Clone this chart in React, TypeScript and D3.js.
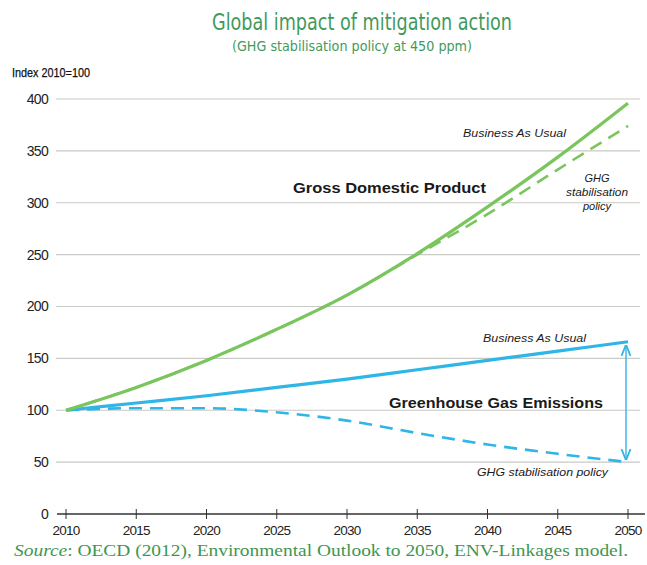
import React, { useEffect, useRef } from 'react';
import * as d3 from 'd3';

const years = [2010, 2015, 2020, 2025, 2030, 2035, 2040, 2045, 2050];
const gdpBau = [100, 122, 148, 178, 211, 251, 296, 344, 396];
const gdpPolicy = [100, 122, 148, 178, 211, 250, 289, 332, 374];
const ghgBau = [100, 107, 114, 122, 130, 139, 148, 157, 166];
const ghgPolicy = [100, 102, 102, 98, 90, 78, 67, 58, 50];
const yTicks = [0, 50, 100, 150, 200, 250, 300, 350, 400];

const W = 647;
const H = 565;
const GREEN = '#7ac55d';
const BLUE = '#2fb5e6';
const TITLE_GREEN = '#3f9a5d';

const App: React.FC = () => {
  const svgRef = useRef<SVGSVGElement | null>(null);

  useEffect(() => {
    if (!svgRef.current) return;
    const svg = d3.select(svgRef.current);
    svg.selectAll('*').remove();

    const x = d3.scaleLinear().domain([2010, 2050]).range([66, 628]);
    const y = d3.scaleLinear().domain([0, 400]).range([514, 99]);

    // Titles
    svg.append('text').attr('x', 362).attr('y', 30).attr('text-anchor', 'middle')
      .attr('font-family', 'DejaVu Sans Condensed, DejaVu Sans').attr('font-stretch', 'condensed')
      .attr('font-size', 23).attr('fill', TITLE_GREEN).attr('textLength', 300).attr('lengthAdjust', 'spacingAndGlyphs')
      .text('Global impact of mitigation action');
    svg.append('text').attr('x', 352).attr('y', 51).attr('text-anchor', 'middle')
      .attr('font-family', 'DejaVu Sans Condensed, DejaVu Sans').attr('font-stretch', 'condensed')
      .attr('font-size', 14.5).attr('fill', TITLE_GREEN).attr('textLength', 240).attr('lengthAdjust', 'spacingAndGlyphs')
      .text('(GHG stabilisation policy at 450 ppm)');
    svg.append('text').attr('x', 12).attr('y', 77)
      .attr('font-family', 'Liberation Sans, Arial').attr('font-size', 12.5).attr('fill', '#111')
      .attr('stroke', '#111').attr('stroke-width', 0.25)
      .attr('textLength', 78).attr('lengthAdjust', 'spacingAndGlyphs')
      .text('Index 2010=100');

    // Gridlines + y labels
    const grid = svg.append('g');
    yTicks.forEach((t) => {
      if (t > 0) {
        grid.append('line').attr('x1', 56).attr('x2', 640).attr('y1', y(t)).attr('y2', y(t))
          .attr('stroke', '#c9c9c6').attr('stroke-width', 1.2);
      }
      grid.append('text').attr('x', 48).attr('y', y(t)).attr('dy', '0.35em').attr('text-anchor', 'end')
        .attr('font-family', 'Liberation Sans, Arial').attr('font-size', 14).attr('fill', '#222')
        .attr('letter-spacing', -0.7)
        .text(t);
    });

    // x axis
    const xAxis = svg.append('g');
    xAxis.append('line').attr('x1', 57).attr('x2', 645).attr('y1', y(0)).attr('y2', y(0))
      .attr('stroke', '#333').attr('stroke-width', 1.6);
    years.forEach((yr) => {
      xAxis.append('line').attr('x1', x(yr)).attr('x2', x(yr)).attr('y1', y(0) - 5).attr('y2', y(0) + 5)
        .attr('stroke', '#333').attr('stroke-width', 1);
      xAxis.append('text').attr('x', x(yr)).attr('y', 535).attr('text-anchor', 'middle')
        .attr('font-family', 'Liberation Sans, Arial').attr('font-size', 13.5).attr('fill', '#222')
        .attr('letter-spacing', -0.8)
        .text(yr);
    });

    const line = d3.line<number>()
      .x((_, i) => x(years[i]))
      .y((d) => y(d))
      .curve(d3.curveMonotoneX);

    svg.append('path').datum(ghgPolicy).attr('d', line).attr('fill', 'none')
      .attr('stroke', BLUE).attr('stroke-width', 2.6).attr('stroke-dasharray', '13,8');
    svg.append('path').datum(ghgBau).attr('d', line).attr('fill', 'none')
      .attr('stroke', BLUE).attr('stroke-width', 3.2);
    svg.append('path').datum(gdpPolicy).attr('d', line).attr('fill', 'none')
      .attr('stroke', GREEN).attr('stroke-width', 2.6).attr('stroke-dasharray', '13,8');
    svg.append('path').datum(gdpBau).attr('d', line).attr('fill', 'none')
      .attr('stroke', GREEN).attr('stroke-width', 3.2);

    // Double-headed arrow between emissions endpoints
    const defs = svg.append('defs');
    defs.append('marker').attr('id', 'ah').attr('viewBox', '0 0 10 10').attr('refX', 9).attr('refY', 5)
      .attr('markerWidth', 8).attr('markerHeight', 8).attr('orient', 'auto-start-reverse')
      .append('path').attr('d', 'M0,1 L10,5 L0,9').attr('fill', 'none').attr('stroke', BLUE).attr('stroke-width', 1.6);
    const ax = x(2050) - 2;
    svg.append('line').attr('x1', ax).attr('x2', ax)
      .attr('y1', y(ghgBau[ghgBau.length - 1]) + 4).attr('y2', y(ghgPolicy[ghgPolicy.length - 1]) - 3)
      .attr('stroke', BLUE).attr('stroke-width', 1.4)
      .attr('marker-start', 'url(#ah)').attr('marker-end', 'url(#ah)');

    // Annotations
    const label = (tx: number, ty: number, s: string, opts: { size: number; bold?: boolean; italic?: boolean; anchor?: string; len?: number }) => {
      const t = svg.append('text').attr('x', tx).attr('y', ty)
        .attr('font-family', 'Liberation Sans, Arial').attr('font-size', opts.size).attr('fill', '#1a1a1a')
        .attr('text-anchor', opts.anchor ?? 'start')
        .attr('font-weight', opts.bold ? 'bold' : 'normal')
        .attr('font-style', opts.italic ? 'italic' : 'normal')
        .text(s);
      if (opts.len) t.attr('textLength', opts.len).attr('lengthAdjust', 'spacingAndGlyphs');
    };
    label(293, 193, 'Gross Domestic Product', { size: 15, bold: true, len: 193 });
    label(463, 137, 'Business As Usual', { size: 11, italic: true, len: 103 });
    label(597, 182, 'GHG', { size: 11, italic: true, anchor: 'middle' });
    label(597, 196, 'stabilisation', { size: 11, italic: true, anchor: 'middle', len: 62 });
    label(597, 210, 'policy', { size: 11, italic: true, anchor: 'middle' });
    label(483, 342, 'Business As Usual', { size: 11, italic: true, len: 103 });
    label(389, 408, 'Greenhouse Gas Emissions', { size: 15, bold: true, len: 214 });
    label(477, 476, 'GHG stabilisation policy', { size: 11, italic: true, len: 131 });

    // Source
    const src = svg.append('text').attr('x', 14).attr('y', 556)
      .attr('font-family', 'Liberation Serif, DejaVu Serif').attr('font-size', 16).attr('fill', '#3f9650')
      .attr('textLength', 614).attr('lengthAdjust', 'spacingAndGlyphs');
    src.append('tspan').attr('font-style', 'italic').text('Source');
    src.append('tspan').text(': OECD (2012), Environmental Outlook to 2050, ENV-Linkages model.');
  }, []);

  return <svg ref={svgRef} width={W} height={H} style={{ display: 'block', position: 'absolute', left: 0, top: 0, background: '#fff' }} />;
};

export default App;
